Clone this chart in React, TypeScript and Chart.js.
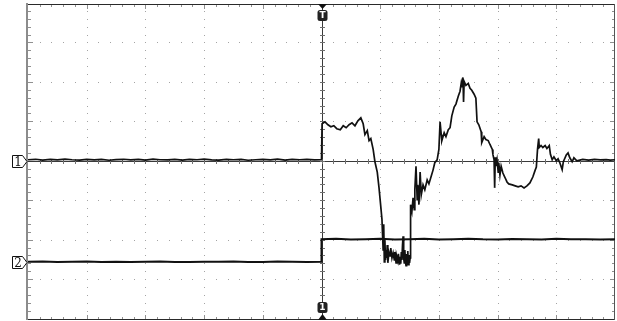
import React, { useEffect, useRef } from "react";
import { Chart, registerables } from "chart.js";

Chart.register(...registerables);

// Horizontal: time in µs (100 µs/div), trigger at 0
const timeMin = -500;
const timeMax = 500;
// Vertical: mV (40 mV/div)
const voltMin = -160;
const voltMax = 160;
const divX = 10;
const divY = 8;
const minorPerDiv = 5;

// Channel 1 trace
const ch1Time = [
  -500, -487, -475, -462, -450, -437, -425, -412, -400, -387, -375, -362, -350, -337, -325, -312, -300, -287, -275, -262,
  -250, -237, -225, -212, -200, -187, -175, -162, -150, -137, -125, -112, -100, -87, -75, -62, -50, -37, -25, -12, 0,
  1, 6, 11, 16, 21, 26, 32, 37, 42, 47, 52, 57, 62, 67, 71, 74, 78, 81, 84, 88,
  91, 95, 98, 101, 103, 105, 106, 107, 108, 109, 110, 111, 112, 113, 115, 117, 118, 120, 122, 124,
  125, 127, 128, 130, 131, 133, 134, 135, 136, 137, 138, 139, 140, 141, 142, 143, 144, 145, 146, 147,
  148, 149, 150, 151, 151.5, 152, 154, 156, 158, 159, 161, 163, 164, 166, 168, 170, 173, 176, 180, 183,
  187, 190, 193, 197, 200, 202, 204, 205, 209, 212, 216, 219, 222, 226, 229, 233, 236, 238, 239, 241,
  242, 243, 246, 250, 253, 256, 260, 263, 265, 268, 272, 273, 277, 280, 284, 287, 291, 292, 294, 295,
  296, 297, 299, 301, 302, 304, 306, 309, 313, 316, 319, 325, 330, 335, 340, 345, 350, 355, 360, 364,
  366, 368, 370, 371, 374, 377, 381, 384, 388, 390, 393, 396, 400, 403, 406, 410, 412, 417, 420, 423,
  427, 430, 435, 445, 455, 465, 475, 485, 492, 500,
];
const ch1Volts = [
  1.5, 2, 1.2, 1.8, 1.3, 2.1, 1.5, 1.1, 1.9, 1.4, 1.8, 1.0, 1.6, 2.0, 1.3, 1.8, 1.1, 2.1, 1.5, 1.3,
  1.9, 1.1, 1.8, 1.5, 2.1, 1.3, 1.1, 1.8, 1.5, 1.9, 1.0, 1.5, 1.8, 1.3, 2.1, 1.1, 1.8, 1.5, 1.9, 1.3, 1.5,
  38, 40, 37, 35, 36, 33, 32, 36, 34, 37, 39, 36, 41, 44, 38, 27, 31, 21, 23, 12,
  -0.5, -11, -27, -46, -59, -90, -64, -102, -80, -100, -90, -98, -85, -103, -92, -96, -88, -98, -93, -100,
  -92, -103, -96, -101, -94, -105, -97, -104, -92, -100, -85, -76, -98, -103, -90, -101, -106, -94, -104, -91,
  -105, -95, -103, -98, -60, -44, -51, -37, -49, -29, -5, -39, -24, -44, -11, -34, -24, -29, -19, -23,
  -15, -9, -1.5, 1.5, 12, 40, 27, 21, 29, 25, 32, 34, 46, 55, 58, 66, 71, 79, 75, 85,
  60, 81, 77, 79, 74, 72, 68, 64, 40, 37, 30, 19, 25, 22, 21, 17, 12, 7, 1.5, -27,
  4, -5, 1.5, -11, -1.5, -14, -5, -12, -17, -21, -23, -24, -25, -26, -25, -27, -25, -22, -16, -9,
  -6, 12, 23, 14, 16, 14, 16, 13, 16, 7, 1.5, 4.5, 0.5, 2.5, -1.5, -8.5, -0.5, 6.5, 8.5, 3.5,
  -0.5, 3.5, 0.5, 1.8, 1.2, 1.9, 1.3, 1.7, 1.2, 1.5,
];

// Channel 2 trace
const ch2Time = [
  -500, -475, -450, -425, -400, -375, -350, -325, -300, -275, -250, -225, -200, -175, -150, -125, -100, -75, -50, -25, 0,
  0, 25, 50, 75, 100, 125, 150, 175, 200, 225, 250, 275, 300, 325, 350, 375, 400, 425, 450, 475, 500,
];
const ch2Volts = [
  -102, -101.8, -102.3, -102, -101.8, -102.2, -101.9, -102.3, -102, -101.8, -102.2, -102.3, -101.9, -102, -101.8, -102.2, -102.3, -101.8, -102, -102.2, -102,
  -79, -78.7, -79.3, -79, -78.6, -79.3, -79, -78.7, -79.4, -79, -78.7, -79.2, -79.3, -78.8, -79, -79.3, -78.7, -79.2, -79, -79.3, -79,
];

const channelLabels = ["1", "2"];
const channelLevels = [0, -102];
const triggerLabel = "T";
const bottomLabel = "1";

const graticule = {
  id: "graticule",
  beforeDatasetsDraw(chart: any) {
    const { ctx, chartArea } = chart;
    const { left, right, top, bottom } = chartArea;
    const w = right - left;
    const h = bottom - top;
    const sx = w / divX;
    const sy = h / divY;
    const cx = Math.round(chart.scales.x.getPixelForValue(0));
    const cy = Math.floor(chart.scales.y.getPixelForValue(0));
    const T = Math.ceil(top);
    const B = Math.floor(bottom);
    ctx.save();
    // dotted grid
    ctx.fillStyle = "#a4a4a4";
    for (let i = 1; i < divX; i++) {
      if (i === divX / 2) continue;
      const x = Math.round(left + i * sx);
      for (let j = 1; j < divY * minorPerDiv; j++) {
        const y = Math.floor(top + (j * sy) / minorPerDiv);
        ctx.fillRect(x, y, 1, 1);
      }
    }
    for (let j = 1; j < divY; j++) {
      if (j === divY / 2) continue;
      const y = Math.floor(top + j * sy);
      for (let i = 1; i < divX * minorPerDiv; i++) {
        const x = Math.round(left + (i * sx) / minorPerDiv);
        ctx.fillRect(x, y, 1, 1);
      }
    }
    // edge ticks
    ctx.fillStyle = "#909090";
    for (let i = 1; i < divX * minorPerDiv; i++) {
      const x = Math.round(left + (i * sx) / minorPerDiv);
      const len = i % minorPerDiv === 0 ? 5 : 3;
      ctx.fillRect(x, T, 1, len);
      ctx.fillRect(x, B - len + 1, 1, len);
    }
    for (let j = 1; j < divY * minorPerDiv; j++) {
      const y = Math.floor(top + (j * sy) / minorPerDiv);
      const len = j % minorPerDiv === 0 ? 5 : 3;
      ctx.fillRect(left, y, len, 1);
      ctx.fillRect(right - len, y, len, 1);
    }
    // center crosshair
    ctx.fillStyle = "#3a3a3a";
    ctx.fillRect(left, cy, w, 1);
    ctx.fillRect(cx, T, 1, B - T);
    ctx.fillStyle = "#707070";
    for (let i = 1; i < divX * minorPerDiv; i++) {
      const x = Math.round(left + (i * sx) / minorPerDiv);
      ctx.fillRect(x, cy - 2, 1, 5);
    }
    for (let j = 1; j < divY * minorPerDiv; j++) {
      const y = Math.floor(top + (j * sy) / minorPerDiv);
      ctx.fillRect(cx - 2, y, 5, 1);
    }
    // borders
    ctx.fillStyle = "#2a2a2a";
    ctx.fillRect(left, T, w, 1);
    ctx.fillRect(left, B, w, 1);
    ctx.fillStyle = "#555";
    ctx.fillRect(right - 1, T, 1, B - T + 1);
    ctx.fillStyle = "#8c8c8c";
    ctx.fillRect(left - 2, T - 1, 2, B - T + 2);
    ctx.restore();
  },
  afterDatasetsDraw(chart: any) {
    const { ctx, chartArea } = chart;
    const { top, bottom, left } = chartArea;
    const cx = Math.round(chart.scales.x.getPixelForValue(0)) + 0.5;
    const T = Math.ceil(top);
    const B = Math.floor(bottom);
    ctx.save();
    // trigger position marker (top)
    ctx.fillStyle = "#111";
    ctx.beginPath();
    ctx.moveTo(cx - 4.5, T);
    ctx.lineTo(cx + 4.5, T);
    ctx.lineTo(cx, T + 5);
    ctx.closePath();
    ctx.fill();
    ctx.fillStyle = "#222";
    ctx.beginPath();
    ctx.roundRect(cx - 5, T + 6, 10, 11, 2.5);
    ctx.fill();
    ctx.fillStyle = "#fff";
    ctx.font = "bold 9px 'DejaVu Sans', sans-serif";
    ctx.textAlign = "center";
    ctx.textBaseline = "middle";
    ctx.fillText(triggerLabel, cx, T + 12);
    // bottom marker
    ctx.fillStyle = "#222";
    ctx.beginPath();
    ctx.roundRect(cx - 5, B - 17, 10, 11, 2.5);
    ctx.fill();
    ctx.fillStyle = "#fff";
    ctx.fillText(bottomLabel, cx, B - 11);
    ctx.fillStyle = "#111";
    ctx.beginPath();
    ctx.moveTo(cx - 4.5, B + 1);
    ctx.lineTo(cx + 4.5, B + 1);
    ctx.lineTo(cx, B - 5);
    ctx.closePath();
    ctx.fill();
    // channel ground markers
    ctx.font = "12px 'DejaVu Serif', 'Liberation Serif', serif";
    channelLabels.forEach((lab, k) => {
      const py = Math.round(chart.scales.y.getPixelForValue(channelLevels[k])) + 0.5;
      const x0 = left - 15.5;
      ctx.beginPath();
      ctx.moveTo(x0, py - 6);
      ctx.lineTo(x0 + 10, py - 6);
      ctx.lineTo(left - 1, py);
      ctx.lineTo(x0 + 10, py + 6);
      ctx.lineTo(x0, py + 6);
      ctx.closePath();
      ctx.fillStyle = "#fff";
      ctx.fill();
      ctx.strokeStyle = "#111";
      ctx.lineWidth = 1;
      ctx.stroke();
      ctx.fillStyle = "#111";
      ctx.fillText(lab, x0 + 5.5, py + 1);
    });
    ctx.restore();
  },
};

export default function App() {
  const ref = useRef<HTMLCanvasElement | null>(null);
  useEffect(() => {
    if (!ref.current) return;
    const chart = new Chart(ref.current, {
      type: "line",
      data: {
        datasets: [
          {
            label: "CH1",
            data: ch1Time.map((t, i) => ({ x: t, y: ch1Volts[i] })),
            borderColor: "#111",
            borderWidth: 1.7,
            pointRadius: 0,
            tension: 0,
          },
          {
            label: "CH2",
            data: ch2Time.map((t, i) => ({ x: t, y: ch2Volts[i] })),
            borderColor: "#111",
            borderWidth: 2,
            pointRadius: 0,
            tension: 0,
          },
        ],
      },
      options: {
        animation: false,
        responsive: false,
        maintainAspectRatio: false,
        devicePixelRatio: 1,
        layout: { padding: { left: 28, top: 3.5, right: 2, bottom: 2 } },
        plugins: { legend: { display: false }, tooltip: { enabled: false }, title: { display: false } },
        events: [],
        scales: {
          x: { type: "linear", min: timeMin, max: timeMax, display: false },
          y: { type: "linear", min: voltMin, max: voltMax, display: false },
        },
      },
      plugins: [graticule],
    } as any);
    return () => chart.destroy();
  }, []);
  return (
    <div style={{ position: "absolute", left: 0, top: 0, width: 617, height: 321, background: "#fff" }}>
      <canvas ref={ref} width={617} height={321} style={{ width: 617, height: 321, display: "block" }} />
    </div>
  );
}
